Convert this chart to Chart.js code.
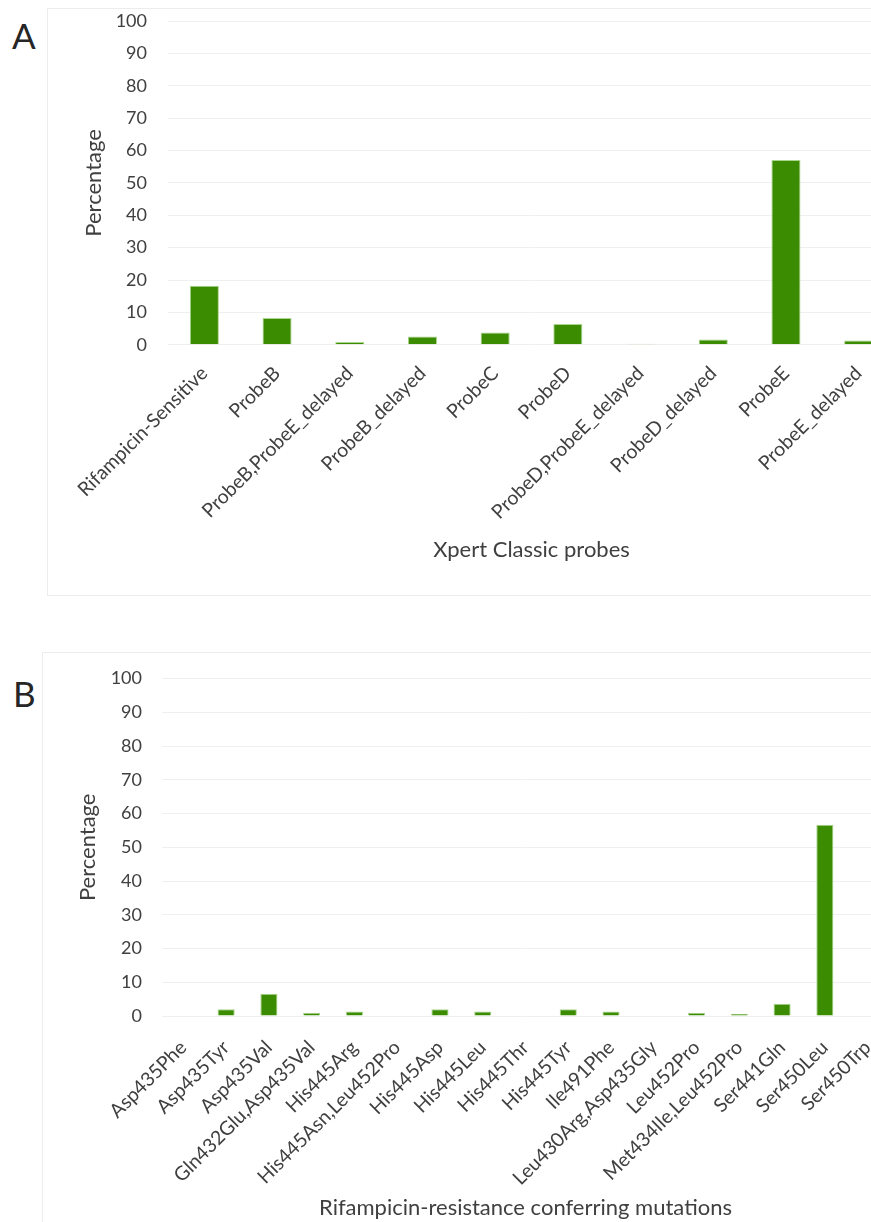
<!DOCTYPE html>
<html><head><meta charset="utf-8">
<script src="https://cdn.jsdelivr.net/npm/chart.js@4"></script>
<style>
html,body{margin:0;padding:0;background:#fff;}
#page{position:relative;width:871px;height:1222px;overflow:hidden;}
.box{position:absolute;border:1px solid #ececec;box-sizing:border-box;}
.panel{position:absolute;font-family:Lato, sans-serif;font-size:35px;line-height:35px;color:#262626;}
canvas{position:absolute;}
</style></head><body>
<div id="page">
 <div class="box" style="left:47px;top:8px;width:900px;height:588px"></div>
 <div class="box" style="left:42px;top:652px;width:900px;height:600px"></div>
 <div class="panel" style="left:12px;top:18px">A</div>
 <div class="panel" style="left:13px;top:676px">B</div>
 <canvas id="cA" width="852" height="587" style="left:48px;top:8px"></canvas>
 <canvas id="cB" width="860" height="570" style="left:42px;top:652px"></canvas>
</div>
<script>
const probeLabels = ["Rifampicin-Sensitive","ProbeB","ProbeB,ProbeE_delayed","ProbeB_delayed","ProbeC","ProbeD","ProbeD,ProbeE_delayed","ProbeD_delayed","ProbeE","ProbeE_delayed"];
const probeValues = [18.2, 8.3, 0.9, 2.6, 3.8, 6.4, 0.3, 1.6, 57.1, 1.3];

const mutationLabels = ["Asp435Phe","Asp435Tyr","Asp435Val","Gln432Glu,Asp435Val","His445Arg","His445Asn,Leu452Pro","His445Asp","His445Leu","His445Thr","His445Tyr","Ile491Phe","Leu430Arg,Asp435Gly","Leu452Pro","Met434Ile,Leu452Pro","Ser441Gln","Ser450Leu","Ser450Trp"];
const mutationValues = [0, 2.0, 6.6, 1.0, 1.3, 0, 2.0, 1.3, 0, 2.0, 1.3, 0, 1.0, 0.7, 3.6, 56.7, 0];

const yMin = 0, yMax = 100, yStep = 10;
const yTitle = "Percentage";
const xTitleA = "Xpert Classic probes";
const xTitleB = "Rifampicin-resistance conferring mutations";

const FONT = "Lato, sans-serif";
const TXT = "#404040";
const GREEN = "#3b8c00";

function makeChart(id, labels, values, xTitle, cfg) {
  new Chart(document.getElementById(id), {
    type: 'bar',
    data: { labels: labels, datasets: [{ data: values, backgroundColor: GREEN, borderColor: "#a9d48a", borderWidth: 1, barPercentage: 0.4, categoryPercentage: 1.0 }] },
    options: {
      responsive: false, animation: false, devicePixelRatio: 1,
      layout: { padding: { top: cfg.padTop, left: 0, right: cfg.padRight, bottom: 0 } },
      plugins: { legend: { display: false }, tooltip: { enabled: false } },
      scales: {
        x: {
          grid: { display: false, drawTicks: false },
          border: { display: false },
          ticks: { color: TXT, font: { family: FONT, size: 19.5 }, minRotation: 45, maxRotation: 45, padding: cfg.xTickPad, autoSkip: false },
          title: { display: true, text: xTitle, color: TXT, font: { family: FONT, size: 22 }, padding: { top: 0, bottom: cfg.xTitlePad } },
          afterFit: s => { s.height = cfg.xHeight; s.paddingLeft = 0; s.paddingRight = 0; }
        },
        y: {
          min: yMin, max: yMax,
          grid: { color: "#efefef", lineWidth: 1, drawTicks: false },
          border: { display: false },
          ticks: { stepSize: yStep, color: TXT, font: { family: FONT, size: 18 }, padding: cfg.yTickPad },
          title: { display: true, text: yTitle, color: TXT, font: { family: FONT, size: 22 }, padding: { top: cfg.yTitlePad, bottom: 0 } },
          afterFit: s => { s.width = 120; s.paddingTop = 0; s.paddingBottom = 0; }
        }
      }
    }
  });
}

makeChart('cA', probeLabels, probeValues, xTitleA, { padTop: 13, padRight: 5, xHeight: 250.2, xTickPad: 17, xTitlePad: 32, yTickPad: 21, yTitlePad: 33 });
makeChart('cB', mutationLabels, mutationValues, xTitleB, { padTop: 26.6, padRight: 13, xHeight: 206, xTickPad: 20, xTitlePad: 1, yTickPad: 20, yTitlePad: 33 });
</script>
</body></html>
